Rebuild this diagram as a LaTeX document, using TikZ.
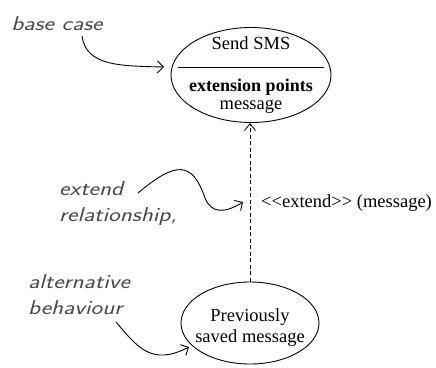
\documentclass[tikz,border=0pt]{standalone}
\usepackage{fontspec}
\usepackage{graphicx}
\setmainfont{Liberation Serif}
\usetikzlibrary{shapes.geometric,arrows.meta}
\newcommand{\handnote}[1]{\scalebox{1.24}[1]{\begin{tabular}{@{}l@{}}#1\end{tabular}}}
\begin{document}
\begin{tikzpicture}[x=1pt,y=-1pt,
  usecase/.style={draw, ellipse, line width=0.9pt, inner sep=0pt},
  txt/.style={font=\fontsize{18.5}{20}\selectfont, inner sep=0pt},
  note/.style={font=\fontsize{20}{26}\selectfont\sffamily\itshape, text=black!72, inner sep=0pt},
  notearrow/.style={line width=0.9pt, -{Straight Barb[length=6pt,width=12pt]}},
  extendline/.style={dashed, line width=0.8pt, dash pattern=on 4pt off 2.5pt, -{Straight Barb[length=7pt,width=11pt]}}]
\useasboundingbox (0,0) rectangle (436,367);

% base use case with its extension point compartment
\node[usecase, minimum width=160pt, minimum height=95pt] (base) at (251,75) {};
\draw[line width=0.9pt] (178,67) -- (324,67);
\node[txt] (title) at (251,43) {Send SMS};
\node[txt, font=\fontsize{18}{20}\selectfont\bfseries] (ep) at (251,87) {extension points};
\node[txt] (msg) at (251,107) {message};

% extending use case
\node[usecase, minimum width=138pt, minimum height=82pt] (prev) at (250,323) {};
\node[txt] (prev1) at (250,317) {Previously};
\node[txt] (prev2) at (250,338) {saved message};

% extend relationship
\draw[extendline] (prev.north) -- (prev.north |- base.south);
\node[txt, anchor=west] (rel) at (261,203) {{<}{<}extend{>}{>} (message)};

% annotations
\node[note] (nbase) at (57,25) {\handnote{base case}};
\node[note, anchor=west] (next) at (59,203) {\handnote{extend\\relationship,}};
\node[note, anchor=west] (nalt) at (28,296) {\handnote{alternative\\behaviour}};

\coordinate (a1) at (82,36);
\coordinate (b1) at (164,67);
\draw[notearrow] (a1) .. controls (86,66) and (120,66) .. (b1);

\coordinate (a2) at (138,193);
\coordinate (m2) at (205,198);
\coordinate (b2) at (243,202);
\draw[notearrow] (a2) .. controls (175,162) and (192,160) .. (m2)
  .. controls (211,213) and (224,214) .. (b2);

\coordinate (a3) at (116,322);
\coordinate (b3) at (189,347);
\draw[notearrow] (a3) .. controls (138,348) and (152,366) .. (b3);
\end{tikzpicture}
\end{document}
